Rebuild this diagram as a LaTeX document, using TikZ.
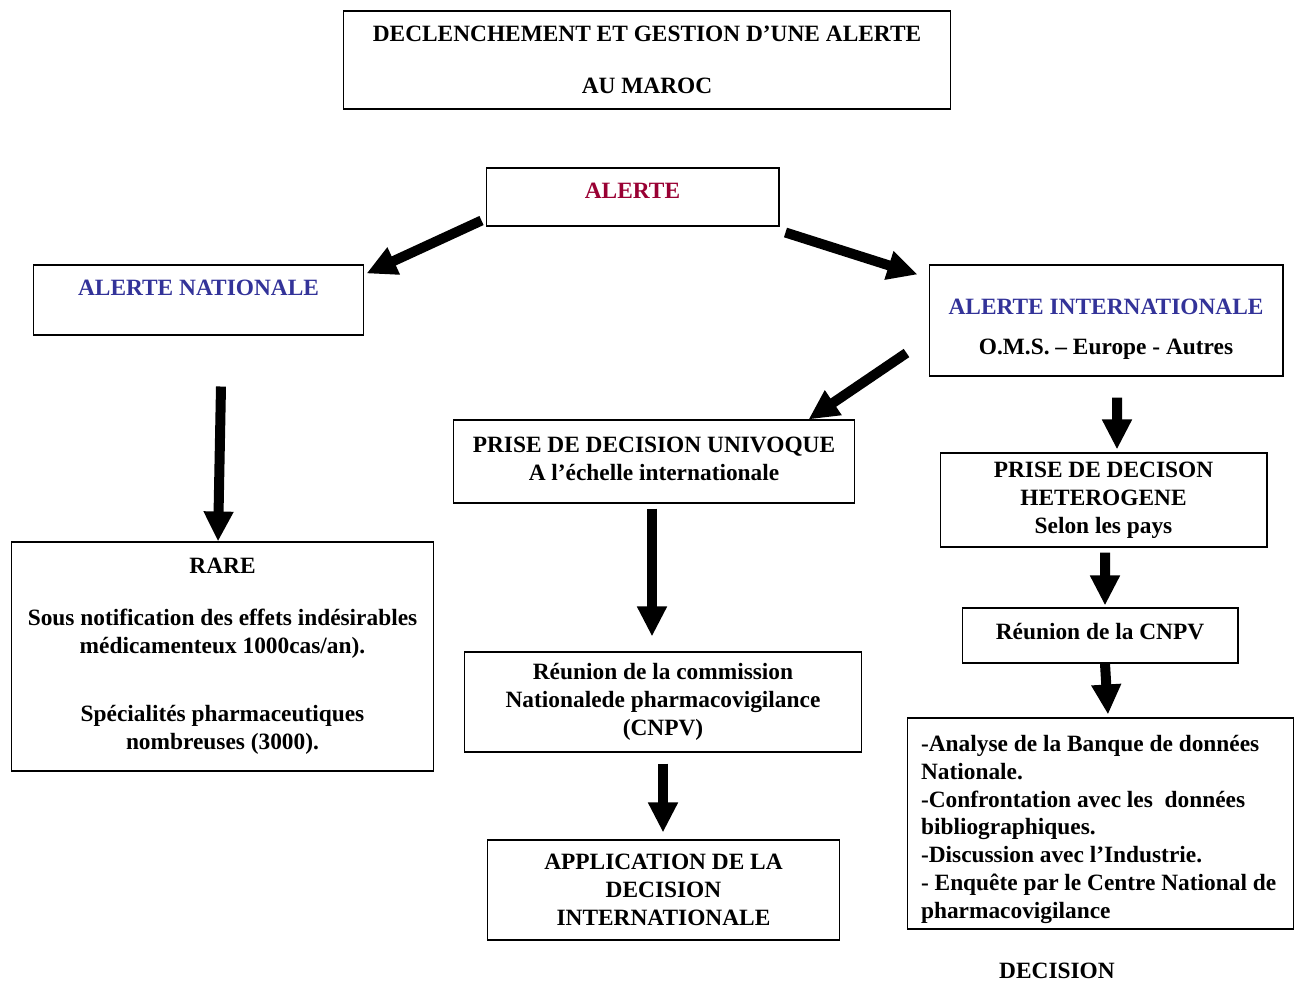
\documentclass[tikz,border=0pt]{standalone}
\usepackage{fontspec}
\setmainfont{Liberation Serif}
\usetikzlibrary{arrows.meta,calc}
\definecolor{alertred}{HTML}{990033}
\definecolor{alertblue}{HTML}{333399}

\begin{document}
\begin{tikzpicture}[x=0.02cm,y=-0.02cm,
  every node/.style={font=\fontsize{13.3}{15.9}\selectfont\bfseries},
  box/.style={draw,line width=0.6pt,align=center,inner sep=0pt},
  fat/.style={line width=0.2cm,-{Triangle[width=0.56cm,length=0.6cm]}}]
\useasboundingbox (0,0) rectangle (1296,983);
%boxes
\node[box,minimum width=12.16cm,minimum height=1.96cm] (titre) at (647,60) {DECLENCHEMENT ET GESTION D’UNE ALERTE\\[13.6pt] AU MAROC};
\node[box,minimum width=5.86cm,minimum height=1.16cm,text depth=0.24cm,text=alertred] (alerte) at (632.5,197) {ALERTE};
\node[box,minimum width=6.62cm,minimum height=1.40cm,text depth=0.48cm,text=alertblue] (nat) at (198.5,300) {ALERTE NATIONALE};
\node[box,minimum width=7.08cm,minimum height=2.22cm] (inter) at (1106,320.5) {\rule{0pt}{19pt}\textcolor{alertblue}{ALERTE INTERNATIONALE}\\[6.8pt] O.M.S. – Europe - Autres};
\node[box,minimum width=8.04cm,minimum height=1.66cm,text depth=0.12cm] (univ) at (654,461.5) {PRISE DE DECISION UNIVOQUE\\ A l’échelle internationale};
\node[box,minimum width=6.54cm,minimum height=1.88cm] (hetero) at (1103.5,500) {PRISE DE DECISON\\ HETEROGENE\\ Selon les pays};
\node[box,minimum width=8.46cm,minimum height=4.58cm] (rare) at (222.5,656.5) {RARE\\[13.6pt] Sous notification des effets indésirables\\ médicamenteux 1000cas/an).\\[22.8pt] Spécialités pharmaceutiques\\ nombreuses (3000).};
\node[box,minimum width=7.96cm,minimum height=2.00cm] (reunion) at (663,702) {Réunion de la commission\\ Nationalede pharmacovigilance\\ (CNPV)};
\node[box,minimum width=5.52cm,minimum height=1.10cm,text depth=0.18cm] (cnpv) at (1100,635.5) {Réunion de la CNPV};
\node[box,align=flush left,text width=7.18cm,inner xsep=0.28cm,minimum height=4.22cm] (analyse) at (1100.5,823.5) {\rule{0pt}{16pt}-Analyse de la Banque de données\\ Nationale.\\ -Confrontation avec les~ données\\ bibliographiques.\\ -Discussion avec l’Industrie.\\ - Enquête par le Centre National de\\ pharmacovigilance};
\node[box,minimum width=7.06cm,minimum height=2.00cm] (applic) at (663.5,890) {APPLICATION DE LA\\ DECISION\\ INTERNATIONALE};
\node[] (decision) at (1057,971) {DECISION};
%arrows
\draw[fat] ($(alerte.south west)+(-4,-6)$) -- ($(nat.north east)+(2,9)$);
\draw[fat] ($(alerte.south east)+(6,6)$) -- ($(inter.north west)+(-11,10)$);
\draw[fat] ($(nat.south)+(22.5,51)$) -- ($(rare.north)+(-4.5,0)$);
\draw[fat] ($(inter.west)+(-22,32.5)$) -- ($(univ.north east)+(-47,0)$);
\draw[fat] ($(inter.south)+(11,21)$) -- ($(hetero.north)+(13.5,-3)$);
\draw[fat] ($(univ.south)+(-2,5)$) -- ($(reunion.north)+(-11,-15)$);
\draw[fat] ($(hetero.south)+(1.5,5)$) -- ($(cnpv.north)+(5,-2)$);
\draw[fat] ($(cnpv.south)+(5,0)$) -- ($(analyse.north)+(7.5,-3)$);
\draw[fat] ($(reunion.south)+(0,11)$) -- ($(applic.north)+(-0.5,-7)$);
\end{tikzpicture}
\end{document}
